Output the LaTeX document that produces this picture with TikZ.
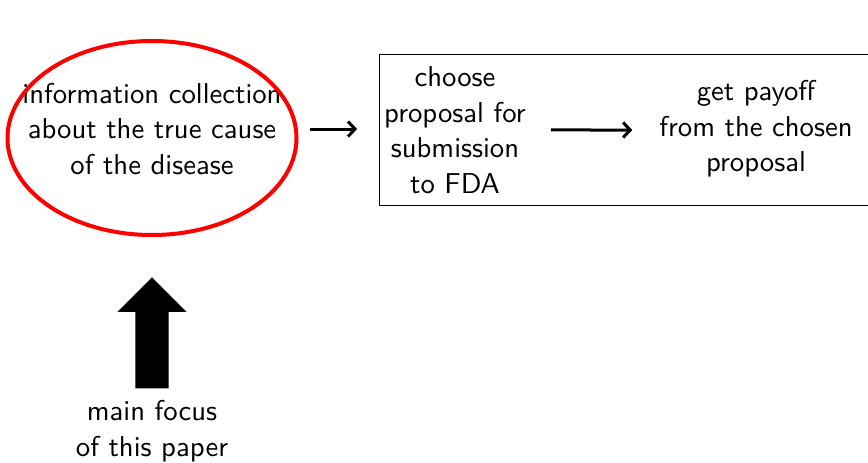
\documentclass[tikz,border=0pt]{standalone}
\usetikzlibrary{shapes,arrows.meta,positioning}

\begin{document}
\begin{tikzpicture}[x=1pt, y=-1pt, >={Straight Barb[length=7pt,width=15pt]},
    txt/.style={font=\sffamily\fontsize{10}{12.37}\selectfont, align=center, scale=2.87}]
  \useasboundingbox (0,0) rectangle (868,463);
  \node [txt] (info) at (152,129) {information collection\\about the true cause\\of the disease};
  \draw [red, line width=4pt] (152,138) ellipse (144.5 and 97);
  \node [txt] (choose) at (455,130) {choose\\proposal for\\submission\\to FDA};
  \node [txt] (payoff) at (756,129) {get payoff\\from the chosen\\proposal};
  \draw [line width=1pt] (379,54) rectangle (880,205);
  \node [single arrow, fill=black, shape border rotate=90, anchor=tip, minimum height=111pt, minimum width=69pt, inner sep=16.5pt, single arrow head extend=18pt] (focus) at (152,277) {};
  \node [txt, below=2pt of focus] (paper) {main focus\\of this paper};

  \draw [->, line width=3pt, shorten <=18pt, shorten >=17pt] (info.east) -- (info.east -| choose.west);
  \draw [->, line width=3pt, shorten <=15pt, shorten >=17pt] (choose) -- (choose -| payoff.west);
\end{tikzpicture}
\end{document}
